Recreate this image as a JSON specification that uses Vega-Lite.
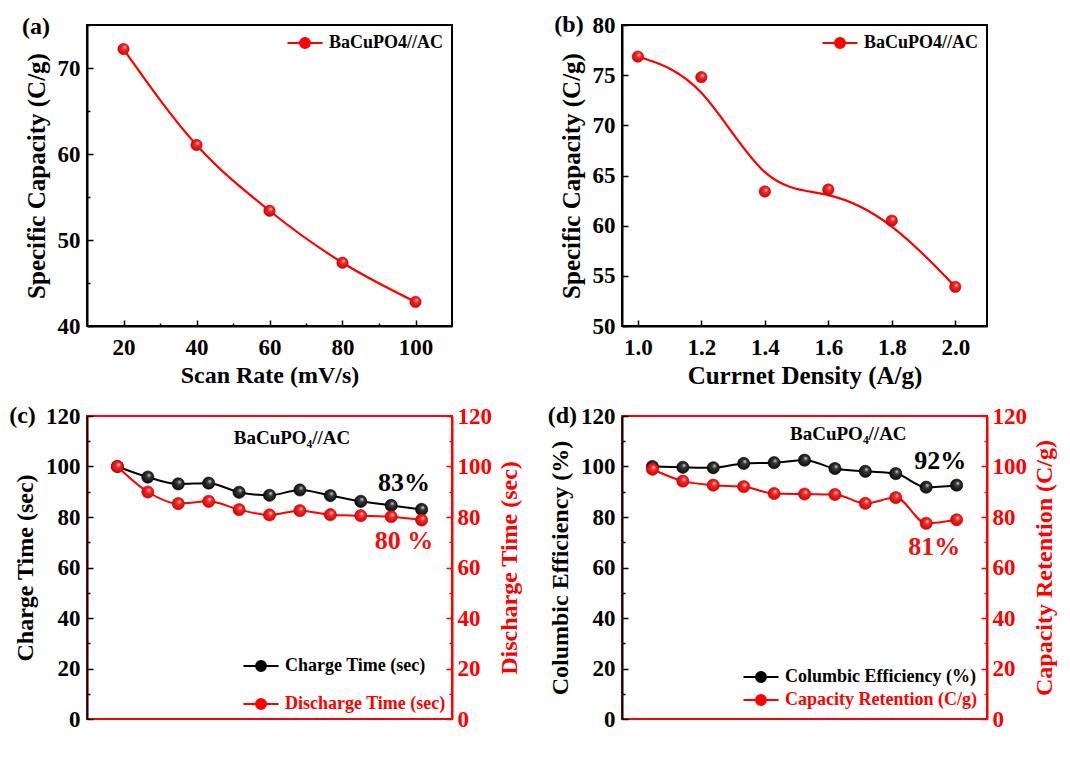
{
  "$schema": "https://vega.github.io/schema/vega-lite/v6.json",
  "background": "white",
  "padding": {"left": 8, "top": 12, "right": 2, "bottom": 2},
  "columns": 2,
  "spacing": {"row": 14, "column": 23},
  "resolve": {"scale": {"color": "independent"}, "legend": {"color": "independent"}},
  "config": {
    "font": "Liberation Serif",
    "view": {"stroke": "black", "strokeWidth": 2},
    "axis": {
      "labelFont": "Liberation Serif", "labelFontWeight": "bold", "labelFontSize": 23, "labelColor": "black",
      "titleFont": "Liberation Serif", "titleFontWeight": "bold", "titleFontSize": 24, "titleColor": "black",
      "domainColor": "black", "domainWidth": 2, "tickColor": "black", "tickWidth": 1.5, "tickSize": -6,
      "grid": false, "labelOverlap": false, "labelFlush": false
    },
    "axisX": {"labelPadding": 16, "titlePadding": 4},
    "axisLeft": {"labelPadding": 13, "titlePadding": 8},
    "axisRight": {"labelPadding": 11, "titlePadding": 6},
    "legend": {"labelFont": "Liberation Serif", "labelFontWeight": "bold", "labelFontSize": 18, "labelColor": "black", "labelLimit": 300}
  },
  "datasets": {
    "a": [
      {"rate": 20, "cap": 72.2, "s": "BaCuPO4//AC"},
      {"rate": 40, "cap": 61.05, "s": "BaCuPO4//AC"},
      {"rate": 60, "cap": 53.4, "s": "BaCuPO4//AC"},
      {"rate": 80, "cap": 47.35, "s": "BaCuPO4//AC"},
      {"rate": 100, "cap": 42.8, "s": "BaCuPO4//AC"}
    ],
    "b": [
      {"j": 1.0, "cap": 76.85, "s": "BaCuPO4//AC"},
      {"j": 1.2, "cap": 74.8, "s": "BaCuPO4//AC"},
      {"j": 1.4, "cap": 63.4, "s": "BaCuPO4//AC"},
      {"j": 1.6, "cap": 63.6, "s": "BaCuPO4//AC"},
      {"j": 1.8, "cap": 60.5, "s": "BaCuPO4//AC"},
      {"j": 2.0, "cap": 53.9, "s": "BaCuPO4//AC"}
    ],
    "c": [
      {"cycle": 0, "series": "Charge Time (sec)", "value": 100},
      {"cycle": 500, "series": "Charge Time (sec)", "value": 95.8},
      {"cycle": 1000, "series": "Charge Time (sec)", "value": 93.1},
      {"cycle": 1500, "series": "Charge Time (sec)", "value": 93.4},
      {"cycle": 2000, "series": "Charge Time (sec)", "value": 89.8},
      {"cycle": 2500, "series": "Charge Time (sec)", "value": 88.6},
      {"cycle": 3000, "series": "Charge Time (sec)", "value": 90.7},
      {"cycle": 3500, "series": "Charge Time (sec)", "value": 88.5},
      {"cycle": 4000, "series": "Charge Time (sec)", "value": 86.2},
      {"cycle": 4500, "series": "Charge Time (sec)", "value": 84.6},
      {"cycle": 5000, "series": "Charge Time (sec)", "value": 83.0},
      {"cycle": 0, "series": "Discharge Time (sec)", "value": 100},
      {"cycle": 500, "series": "Discharge Time (sec)", "value": 89.9},
      {"cycle": 1000, "series": "Discharge Time (sec)", "value": 85.3},
      {"cycle": 1500, "series": "Discharge Time (sec)", "value": 86.2},
      {"cycle": 2000, "series": "Discharge Time (sec)", "value": 82.9},
      {"cycle": 2500, "series": "Discharge Time (sec)", "value": 80.8},
      {"cycle": 3000, "series": "Discharge Time (sec)", "value": 82.5},
      {"cycle": 3500, "series": "Discharge Time (sec)", "value": 80.9},
      {"cycle": 4000, "series": "Discharge Time (sec)", "value": 80.5},
      {"cycle": 4500, "series": "Discharge Time (sec)", "value": 80.1},
      {"cycle": 5000, "series": "Discharge Time (sec)", "value": 78.8}
    ],
    "d": [
      {"cycle": 0, "series": "Columbic Efficiency (%)", "value": 100},
      {"cycle": 500, "series": "Columbic Efficiency (%)", "value": 99.7},
      {"cycle": 1000, "series": "Columbic Efficiency (%)", "value": 99.5},
      {"cycle": 1500, "series": "Columbic Efficiency (%)", "value": 101.2},
      {"cycle": 2000, "series": "Columbic Efficiency (%)", "value": 101.5},
      {"cycle": 2500, "series": "Columbic Efficiency (%)", "value": 102.5},
      {"cycle": 3000, "series": "Columbic Efficiency (%)", "value": 99.2},
      {"cycle": 3500, "series": "Columbic Efficiency (%)", "value": 98.1},
      {"cycle": 4000, "series": "Columbic Efficiency (%)", "value": 97.2},
      {"cycle": 4500, "series": "Columbic Efficiency (%)", "value": 91.8},
      {"cycle": 5000, "series": "Columbic Efficiency (%)", "value": 92.6},
      {"cycle": 0, "series": "Capacity Retention (C/g)", "value": 98.9},
      {"cycle": 500, "series": "Capacity Retention (C/g)", "value": 94.2},
      {"cycle": 1000, "series": "Capacity Retention (C/g)", "value": 92.6},
      {"cycle": 1500, "series": "Capacity Retention (C/g)", "value": 92.0},
      {"cycle": 2000, "series": "Capacity Retention (C/g)", "value": 89.3},
      {"cycle": 2500, "series": "Capacity Retention (C/g)", "value": 89.1},
      {"cycle": 3000, "series": "Capacity Retention (C/g)", "value": 88.9},
      {"cycle": 3500, "series": "Capacity Retention (C/g)", "value": 85.4},
      {"cycle": 4000, "series": "Capacity Retention (C/g)", "value": 87.7},
      {"cycle": 4500, "series": "Capacity Retention (C/g)", "value": 77.5},
      {"cycle": 5000, "series": "Capacity Retention (C/g)", "value": 78.9}
    ]
  },
  "concat": [
    {
      "width": 365, "height": 301,
      "data": {"name": "a"},
      "layer": [
        {
          "mark": {"type": "line", "interpolate": "monotone", "strokeWidth": 2.2},
          "encoding": {
            "x": {"field": "rate", "type": "quantitative", "scale": {"domain": [10, 110], "nice": false, "zero": false},
              "axis": {"title": "Scan Rate (mV/s)", "values": [20, 30, 40, 50, 60, 70, 80, 90, 100],
                "labelExpr": "datum.value % 20 === 0 ? datum.label : ''",
                "tickDash": {"condition": {"test": "datum.value % 20 !== 0", "value": [3, 20]}, "value": [1, 0]}}},
            "y": {"field": "cap", "type": "quantitative", "scale": {"domain": [40, 75], "nice": false, "zero": false},
              "axis": {"title": "Specific Capacity (C/g)", "titleFontSize": 25, "values": [40, 45, 50, 55, 60, 65, 70, 75],
                "labelExpr": "datum.value % 10 === 0 ? datum.label : ''",
                "tickDash": {"condition": {"test": "datum.value % 10 !== 0", "value": [3, 20]}, "value": [1, 0]}}},
            "color": {"field": "s", "type": "nominal", "scale": {"range": ["#ff0000"]},
              "legend": {"title": null, "orient": "top-right", "offset": 8,
                "symbolType": "M-1.95,0H-0.55M0.55,0H1.95M-0.55,0A0.55,0.55,0,1,1,0.55,0A0.55,0.55,0,1,1,-0.55,0",
                "symbolSize": 324, "symbolStrokeWidth": 2, "labelOffset": 14,
                "encode": {"symbols": {"update": {"fill": {"value": "#ff0000"}, "stroke": {"value": "#ff0000"}}}}}}
          }
        },
        {
          "mark": {"type": "circle", "size": 130, "opacity": 1, "stroke": "#d00000", "strokeWidth": 0.6,
            "fill": {"gradient": "radial", "x1": 0.62, "y1": 0.32, "r1": 0, "x2": 0.5, "y2": 0.5, "r2": 0.6,
              "stops": [{"offset": 0, "color": "#ffeeee"}, {"offset": 0.3, "color": "#ff2a2a"}, {"offset": 1, "color": "#b80000"}]}},
          "encoding": {"x": {"field": "rate", "type": "quantitative"}, "y": {"field": "cap", "type": "quantitative"}}
        },
        {
          "data": {"values": [{}]},
          "mark": {"type": "text", "fontSize": 24, "fontWeight": "bold", "clip": false, "baseline": "middle"},
          "encoding": {"x": {"datum": -4, "type": "quantitative"}, "y": {"datum": 74.8, "type": "quantitative"}, "text": {"value": "(a)"}}
        }
      ]
    },
    {
      "width": 365, "height": 301,
      "data": {"name": "b"},
      "layer": [
        {
          "mark": {"type": "line", "interpolate": "basis", "strokeWidth": 2.2},
          "encoding": {
            "x": {"field": "j", "type": "quantitative", "scale": {"domain": [0.95, 2.1], "nice": false, "zero": false},
              "axis": {"title": "Currnet Density (A/g)", "titleFontSize": 25, "values": [1.0, 1.1, 1.2, 1.3, 1.4, 1.5, 1.6, 1.7, 1.8, 1.9, 2.0], "format": ".1f",
                "labelExpr": "round(datum.value * 10) % 2 === 0 ? datum.label : ''",
                "tickDash": {"condition": {"test": "round(datum.value * 10) % 2 !== 0", "value": [3, 20]}, "value": [1, 0]}}},
            "y": {"field": "cap", "type": "quantitative", "scale": {"domain": [50, 80], "nice": false, "zero": false},
              "axis": {"title": "Specific Capacity (C/g)", "titleFontSize": 25, "values": [50, 52.5, 55, 57.5, 60, 62.5, 65, 67.5, 70, 72.5, 75, 77.5, 80],
                "labelExpr": "datum.value % 5 === 0 ? datum.label : ''",
                "tickDash": {"condition": {"test": "datum.value % 5 !== 0", "value": [3, 20]}, "value": [1, 0]}}},
            "color": {"field": "s", "type": "nominal", "scale": {"range": ["#ff0000"]},
              "legend": {"title": null, "orient": "top-right", "offset": 8,
                "symbolType": "M-1.95,0H-0.55M0.55,0H1.95M-0.55,0A0.55,0.55,0,1,1,0.55,0A0.55,0.55,0,1,1,-0.55,0",
                "symbolSize": 324, "symbolStrokeWidth": 2, "labelOffset": 14,
                "encode": {"symbols": {"update": {"fill": {"value": "#ff0000"}, "stroke": {"value": "#ff0000"}}}}}}
          }
        },
        {
          "mark": {"type": "circle", "size": 130, "opacity": 1, "stroke": "#d00000", "strokeWidth": 0.6,
            "fill": {"gradient": "radial", "x1": 0.62, "y1": 0.32, "r1": 0, "x2": 0.5, "y2": 0.5, "r2": 0.6,
              "stops": [{"offset": 0, "color": "#ffeeee"}, {"offset": 0.3, "color": "#ff2a2a"}, {"offset": 1, "color": "#b80000"}]}},
          "encoding": {"x": {"field": "j", "type": "quantitative"}, "y": {"field": "cap", "type": "quantitative"}}
        },
        {
          "data": {"values": [{}]},
          "mark": {"type": "text", "fontSize": 24, "fontWeight": "bold", "clip": false, "baseline": "middle"},
          "encoding": {"x": {"datum": 0.783, "type": "quantitative"}, "y": {"datum": 80, "type": "quantitative"}, "text": {"value": "(b)"}}
        }
      ]
    },
    {
      "width": 365, "height": 303,
      "data": {"name": "c"},
      "view": {"stroke": "#ff0000", "strokeWidth": 2},
      "resolve": {"scale": {"y": "independent"}},
      "layer": [
        {
          "transform": [{"filter": "datum.series === 'Charge Time (sec)'"}],
          "encoding": {
            "x": {"field": "cycle", "type": "quantitative", "scale": {"domain": [-500, 5500], "nice": false, "zero": false},
              "axis": {"title": "No. of Cycles", "values": [0, 500, 1000, 1500, 2000, 2500, 3000, 3500, 4000, 4500, 5000], "format": "d",
                "labelExpr": "datum.value % 1000 === 0 ? datum.label : ''",
                "tickDash": {"condition": {"test": "datum.value % 1000 !== 0", "value": [3, 20]}, "value": [1, 0]}}},
            "y": {"field": "value", "type": "quantitative", "scale": {"domain": [0, 120], "nice": false},
              "axis": {"orient": "left", "title": "Charge Time (sec)", "values": [0, 10, 20, 30, 40, 50, 60, 70, 80, 90, 100, 110, 120],
                "labelExpr": "datum.value % 20 === 0 ? datum.label : ''",
                "tickDash": {"condition": {"test": "datum.value % 20 !== 0", "value": [3, 20]}, "value": [1, 0]}}}
          },
          "layer": [
            {
              "mark": {"type": "line", "interpolate": "monotone", "strokeWidth": 2},
              "encoding": {"color": {"field": "series", "type": "nominal",
                "scale": {"domain": ["Charge Time (sec)", "Discharge Time (sec)"], "range": ["#000000", "#ff0000"]},
                "legend": {"title": null, "orient": "bottom-right", "offset": 6, "rowPadding": 19,
                  "symbolType": "M-1.95,0H-0.55M0.55,0H1.95M-0.55,0A0.55,0.55,0,1,1,0.55,0A0.55,0.55,0,1,1,-0.55,0",
                  "symbolSize": 324, "symbolStrokeWidth": 2, "labelOffset": 14,
                  "encode": {
                    "symbols": {"update": {"fill": {"signal": "datum.value === 'Charge Time (sec)' ? '#000000' : '#ff0000'"}, "stroke": {"signal": "datum.value === 'Charge Time (sec)' ? '#000000' : '#ff0000'"}}},
                    "labels": {"update": {"fill": {"signal": "datum.value === 'Charge Time (sec)' ? '#000000' : '#ff0000'"}}}}}}}
            },
            {
              "mark": {"type": "circle", "size": 150, "opacity": 1, "stroke": "#000000", "strokeWidth": 0.6,
                "fill": {"gradient": "radial", "x1": 0.62, "y1": 0.32, "r1": 0, "x2": 0.5, "y2": 0.5, "r2": 0.6,
                  "stops": [{"offset": 0, "color": "#e0e0e0"}, {"offset": 0.3, "color": "#3a3a3a"}, {"offset": 1, "color": "#000000"}]}}
            }
          ]
        },
        {
          "transform": [{"filter": "datum.series === 'Discharge Time (sec)'"}],
          "encoding": {
            "x": {"field": "cycle", "type": "quantitative"},
            "y": {"field": "value", "type": "quantitative", "scale": {"domain": [0, 120], "nice": false},
              "axis": {"orient": "right", "title": "Discharge Time (sec)", "titleAngle": 270, "titleBaseline": "top", "values": [0, 10, 20, 30, 40, 50, 60, 70, 80, 90, 100, 110, 120],
                "labelExpr": "datum.value % 20 === 0 ? datum.label : ''",
                "domainColor": "#ff0000", "tickColor": "#ff0000", "labelColor": "#ff0000", "titleColor": "#ff0000",
                "tickDash": {"condition": {"test": "datum.value % 20 !== 0", "value": [3, 20]}, "value": [1, 0]}}}
          },
          "layer": [
            {
              "mark": {"type": "line", "interpolate": "monotone", "strokeWidth": 2},
              "encoding": {"color": {"field": "series", "type": "nominal",
                "scale": {"domain": ["Charge Time (sec)", "Discharge Time (sec)"], "range": ["#000000", "#ff0000"]},
                "legend": {"title": null, "orient": "bottom-right", "offset": 6, "rowPadding": 19,
                  "symbolType": "M-1.95,0H-0.55M0.55,0H1.95M-0.55,0A0.55,0.55,0,1,1,0.55,0A0.55,0.55,0,1,1,-0.55,0",
                  "symbolSize": 324, "symbolStrokeWidth": 2, "labelOffset": 14,
                  "encode": {
                    "symbols": {"update": {"fill": {"signal": "datum.value === 'Charge Time (sec)' ? '#000000' : '#ff0000'"}, "stroke": {"signal": "datum.value === 'Charge Time (sec)' ? '#000000' : '#ff0000'"}}},
                    "labels": {"update": {"fill": {"signal": "datum.value === 'Charge Time (sec)' ? '#000000' : '#ff0000'"}}}}}}}
            },
            {
              "mark": {"type": "circle", "size": 150, "opacity": 1, "stroke": "#d00000", "strokeWidth": 0.6,
                "fill": {"gradient": "radial", "x1": 0.62, "y1": 0.32, "r1": 0, "x2": 0.5, "y2": 0.5, "r2": 0.6,
                  "stops": [{"offset": 0, "color": "#ffeeee"}, {"offset": 0.3, "color": "#ff2a2a"}, {"offset": 1, "color": "#b80000"}]}}
            }
          ]
        },
        {
          "data": {"values": [{}]},
          "encoding": {
            "x": {"datum": 0, "type": "quantitative", "axis": null},
            "y": {"datum": 0, "type": "quantitative", "scale": {"domain": [0, 120], "nice": false}, "axis": null}
          },
          "layer": [
            {"mark": {"type": "text", "fontSize": 24, "fontWeight": "bold", "clip": false, "baseline": "middle"},
              "encoding": {"x": {"datum": -1560, "type": "quantitative"}, "y": {"datum": 120, "type": "quantitative"}, "text": {"value": "(c)"}}},
            {"mark": {"type": "text", "fontSize": 19, "fontWeight": "bold", "baseline": "middle"},
              "encoding": {"x": {"datum": 2870, "type": "quantitative"}, "y": {"datum": 111.3, "type": "quantitative"}, "text": {"value": "BaCuPO₄//AC"}}},
            {"mark": {"type": "text", "fontSize": 26, "fontWeight": "bold", "baseline": "middle"},
              "encoding": {"x": {"datum": 4711, "type": "quantitative"}, "y": {"datum": 93.5, "type": "quantitative"}, "text": {"value": "83%"}}},
            {"mark": {"type": "text", "fontSize": 26, "fontWeight": "bold", "baseline": "middle", "color": "#f01010"},
              "encoding": {"x": {"datum": 4711, "type": "quantitative"}, "y": {"datum": 70.5, "type": "quantitative"}, "text": {"value": "80 %"}}}
          ]
        }
      ]
    },
    {
      "width": 365, "height": 303,
      "data": {"name": "d"},
      "view": {"stroke": "#ff0000", "strokeWidth": 2},
      "resolve": {"scale": {"y": "independent"}},
      "layer": [
        {
          "transform": [{"filter": "datum.series === 'Columbic Efficiency (%)'"}],
          "encoding": {
            "x": {"field": "cycle", "type": "quantitative", "scale": {"domain": [-500, 5500], "nice": false, "zero": false},
              "axis": {"title": "No. of Cycles", "values": [0, 500, 1000, 1500, 2000, 2500, 3000, 3500, 4000, 4500, 5000], "format": "d",
                "labelExpr": "datum.value % 1000 === 0 ? datum.label : ''",
                "tickDash": {"condition": {"test": "datum.value % 1000 !== 0", "value": [3, 20]}, "value": [1, 0]}}},
            "y": {"field": "value", "type": "quantitative", "scale": {"domain": [0, 120], "nice": false},
              "axis": {"orient": "left", "title": "Columbic Efficiency (%)", "values": [0, 10, 20, 30, 40, 50, 60, 70, 80, 90, 100, 110, 120],
                "labelExpr": "datum.value % 20 === 0 ? datum.label : ''",
                "tickDash": {"condition": {"test": "datum.value % 20 !== 0", "value": [3, 20]}, "value": [1, 0]}}}
          },
          "layer": [
            {
              "mark": {"type": "line", "interpolate": "monotone", "strokeWidth": 2},
              "encoding": {"color": {"field": "series", "type": "nominal",
                "scale": {"domain": ["Columbic Efficiency (%)", "Capacity Retention (C/g)"], "range": ["#000000", "#ff0000"]},
                "legend": {"title": null, "orient": "bottom-right", "offset": 10, "rowPadding": 4,
                  "symbolType": "M-1.95,0H-0.55M0.55,0H1.95M-0.55,0A0.55,0.55,0,1,1,0.55,0A0.55,0.55,0,1,1,-0.55,0",
                  "symbolSize": 324, "symbolStrokeWidth": 2, "labelOffset": 14,
                  "encode": {
                    "symbols": {"update": {"fill": {"signal": "datum.value === 'Columbic Efficiency (%)' ? '#000000' : '#ff0000'"}, "stroke": {"signal": "datum.value === 'Columbic Efficiency (%)' ? '#000000' : '#ff0000'"}}},
                    "labels": {"update": {"fill": {"signal": "datum.value === 'Columbic Efficiency (%)' ? '#000000' : '#ff0000'"}}}}}}}
            },
            {
              "mark": {"type": "circle", "size": 150, "opacity": 1, "stroke": "#000000", "strokeWidth": 0.6,
                "fill": {"gradient": "radial", "x1": 0.62, "y1": 0.32, "r1": 0, "x2": 0.5, "y2": 0.5, "r2": 0.6,
                  "stops": [{"offset": 0, "color": "#e0e0e0"}, {"offset": 0.3, "color": "#3a3a3a"}, {"offset": 1, "color": "#000000"}]}}
            }
          ]
        },
        {
          "transform": [{"filter": "datum.series === 'Capacity Retention (C/g)'"}],
          "encoding": {
            "x": {"field": "cycle", "type": "quantitative"},
            "y": {"field": "value", "type": "quantitative", "scale": {"domain": [0, 120], "nice": false},
              "axis": {"orient": "right", "title": "Capacity Retention (C/g)", "titleAngle": 270, "titleBaseline": "top", "values": [0, 10, 20, 30, 40, 50, 60, 70, 80, 90, 100, 110, 120],
                "labelExpr": "datum.value % 20 === 0 ? datum.label : ''",
                "domainColor": "#ff0000", "tickColor": "#ff0000", "labelColor": "#ff0000", "titleColor": "#ff0000",
                "tickDash": {"condition": {"test": "datum.value % 20 !== 0", "value": [3, 20]}, "value": [1, 0]}}}
          },
          "layer": [
            {
              "mark": {"type": "line", "interpolate": "monotone", "strokeWidth": 2},
              "encoding": {"color": {"field": "series", "type": "nominal",
                "scale": {"domain": ["Columbic Efficiency (%)", "Capacity Retention (C/g)"], "range": ["#000000", "#ff0000"]},
                "legend": {"title": null, "orient": "bottom-right", "offset": 10, "rowPadding": 4,
                  "symbolType": "M-1.95,0H-0.55M0.55,0H1.95M-0.55,0A0.55,0.55,0,1,1,0.55,0A0.55,0.55,0,1,1,-0.55,0",
                  "symbolSize": 324, "symbolStrokeWidth": 2, "labelOffset": 14,
                  "encode": {
                    "symbols": {"update": {"fill": {"signal": "datum.value === 'Columbic Efficiency (%)' ? '#000000' : '#ff0000'"}, "stroke": {"signal": "datum.value === 'Columbic Efficiency (%)' ? '#000000' : '#ff0000'"}}},
                    "labels": {"update": {"fill": {"signal": "datum.value === 'Columbic Efficiency (%)' ? '#000000' : '#ff0000'"}}}}}}}
            },
            {
              "mark": {"type": "circle", "size": 150, "opacity": 1, "stroke": "#d00000", "strokeWidth": 0.6,
                "fill": {"gradient": "radial", "x1": 0.62, "y1": 0.32, "r1": 0, "x2": 0.5, "y2": 0.5, "r2": 0.6,
                  "stops": [{"offset": 0, "color": "#ffeeee"}, {"offset": 0.3, "color": "#ff2a2a"}, {"offset": 1, "color": "#b80000"}]}}
            }
          ]
        },
        {
          "data": {"values": [{}]},
          "encoding": {
            "x": {"datum": 0, "type": "quantitative", "axis": null},
            "y": {"datum": 0, "type": "quantitative", "scale": {"domain": [0, 120], "nice": false}, "axis": null}
          },
          "layer": [
            {"mark": {"type": "text", "fontSize": 24, "fontWeight": "bold", "clip": false, "baseline": "middle"},
              "encoding": {"x": {"datum": -1481, "type": "quantitative"}, "y": {"datum": 120, "type": "quantitative"}, "text": {"value": "(d)"}}},
            {"mark": {"type": "text", "fontSize": 19, "fontWeight": "bold", "baseline": "middle"},
              "encoding": {"x": {"datum": 3220, "type": "quantitative"}, "y": {"datum": 112.8, "type": "quantitative"}, "text": {"value": "BaCuPO₄//AC"}}},
            {"mark": {"type": "text", "fontSize": 26, "fontWeight": "bold", "baseline": "middle"},
              "encoding": {"x": {"datum": 4733, "type": "quantitative"}, "y": {"datum": 102, "type": "quantitative"}, "text": {"value": "92%"}}},
            {"mark": {"type": "text", "fontSize": 26, "fontWeight": "bold", "baseline": "middle", "color": "#f01010"},
              "encoding": {"x": {"datum": 4634, "type": "quantitative"}, "y": {"datum": 68, "type": "quantitative"}, "text": {"value": "81%"}}}
          ]
        }
      ]
    }
  ]
}
